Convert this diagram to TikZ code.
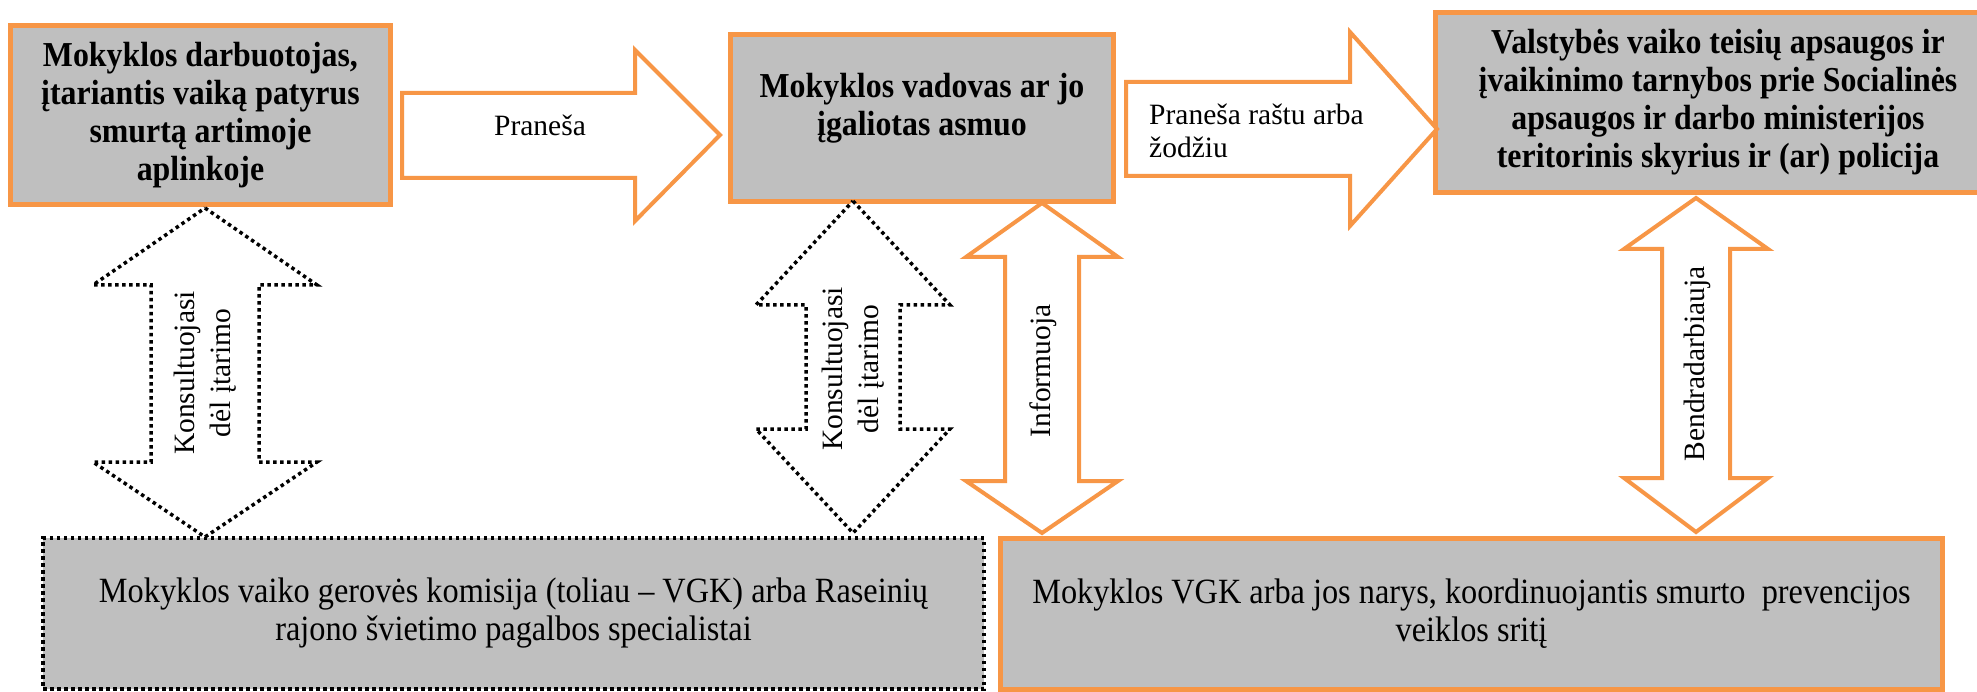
\documentclass[tikz,border=0pt]{standalone}
\usepackage{fontspec}
\setmainfont{Liberation Serif}
\newfontfamily\narrowserif[FakeStretch=0.91]{Liberation Serif}
\usetikzlibrary{positioning}
\definecolor{boxorange}{HTML}{F79646}
\definecolor{boxgray}{HTML}{BFBFBF}
\tikzset{
    box/.style={draw=boxorange, line width=5pt, fill=boxgray, align=center, inner sep=0pt,
        font=\narrowserif\fontsize{35}{38}\selectfont\bfseries},
    dotbox/.style={draw=black, line width=3.5pt, dash pattern=on 3.5pt off 3.5pt, fill=boxgray,
        align=center, inner sep=0pt, font=\narrowserif\fontsize{35.5}{38}\selectfont},
    plainbox/.style={box, font=\narrowserif\fontsize{35.5}{38}\selectfont},
    bigarrow/.style={draw=boxorange, line width=4pt, fill=white, line join=miter},
    dotarrow/.style={draw=black, line width=3.5pt, dash pattern=on 3.5pt off 3.5pt, fill=white},
    arrowtext/.style={inner sep=0pt, font=\fontsize{29.5}{33}\selectfont},
    sidetext/.style={inner sep=0pt, rotate=90, align=center, font=\fontsize{29.5}{36}\selectfont}
}
\begin{document}
\begin{tikzpicture}[x=1pt, y=-1pt]
    \useasboundingbox (0,0) rectangle (1977,692);

    \node[box, minimum width=380pt, minimum height=179pt] (worker) at (200.5,115) {Mokyklos darbuotojas,\\įtariantis vaiką patyrus\\smurtą artimoje\\aplinkoje};
    \node[box, minimum width=383pt, minimum height=167pt] (head) at (922,118) {};
    \node[box, draw=none, fill=none] (headtxt) at (922,108) {Mokyklos vadovas ar jo\\įgaliotas asmuo};
    \node[box, minimum width=566pt, minimum height=180pt] (service) at (1718,102.5) {Valstybės vaiko teisių apsaugos ir\\įvaikinimo tarnybos prie Socialinės\\apsaugos ir darbo ministerijos\\teritorinis skyrius ir (ar) policija};
    \node[dotbox, minimum width=941pt, minimum height=151pt] (vgk) at (513.5,613.5) {Mokyklos vaiko gerovės komisija (toliau – VGK) arba Raseinių\\rajono švietimo pagalbos specialistai};
    \node[plainbox, minimum width=942pt, minimum height=151.5pt] (coord) at (1471.5,614) {Mokyklos VGK arba jos narys, koordinuojantis smurto\ \ prevencijos\\veiklos sritį};

    \coordinate (p1s) at (402,135);
    \coordinate (p1e) at (720,135);
    \coordinate (p2s) at (1126,129);
    \coordinate (p2e) at (1437,129);
    \coordinate (k1t) at (205,208);
    \coordinate (k1b) at (205,537);
    \coordinate (k2t) at (853,201);
    \coordinate (k2b) at (853,533);
    \coordinate (inft) at (1042,203);
    \coordinate (infb) at (1042,533);
    \coordinate (bent) at (1696,198);
    \coordinate (benb) at (1696,532);

    \draw[bigarrow] (p1s) ++(0,-42) -- ++(233,0) -- ++(0,-43) -- (p1e) -- ++(-85,86) -- ++(0,-43) -- ++(-233,0) -- cycle;
    \draw[bigarrow] (p2s) ++(0,-47) -- ++(224,0) -- ++(0,-50) -- (p2e) -- ++(-87,97) -- ++(0,-50) -- ++(-224,0) -- cycle;
    \draw[dotarrow] (k1t) -- ++(112,77) -- ++(-58,0) -- ++(0,177) -- ++(58,0) -- (k1b) -- ++(-112,-75) -- ++(58,0) -- ++(0,-177) -- ++(-58,0) -- cycle;
    \draw[dotarrow] (k2t) -- ++(97,104) -- ++(-50,0) -- ++(0,124) -- ++(50,0) -- (k2b) -- ++(-97,-104) -- ++(50,0) -- ++(0,-124) -- ++(-50,0) -- cycle;
    \draw[bigarrow] (inft) -- ++(76,54) -- ++(-39,0) -- ++(0,224) -- ++(39,0) -- (infb) -- ++(-76,-52) -- ++(39,0) -- ++(0,-224) -- ++(-39,0) -- cycle;
    \draw[bigarrow] (bent) -- ++(72,51) -- ++(-38,0) -- ++(0,229) -- ++(38,0) -- (benb) -- ++(-72,-54) -- ++(38,0) -- ++(0,-229) -- ++(-38,0) -- cycle;

    \node[arrowtext] (tell) at (540,125) {Praneša};
    \node[arrowtext, align=left, anchor=west] (tellw) at (1149,131) {Praneša raštu arba\\žodžiu};
    \node[sidetext] (cons1) at (205,373) {Konsultuojasi\\dėl įtarimo};
    \node[sidetext] (cons2) at (853,369) {Konsultuojasi\\dėl įtarimo};
    \node[sidetext] (inform) at (1043,371) {Informuoja};
    \node[sidetext] (coop) at (1697,364) {Bendradarbiauja};
\end{tikzpicture}
\end{document}
